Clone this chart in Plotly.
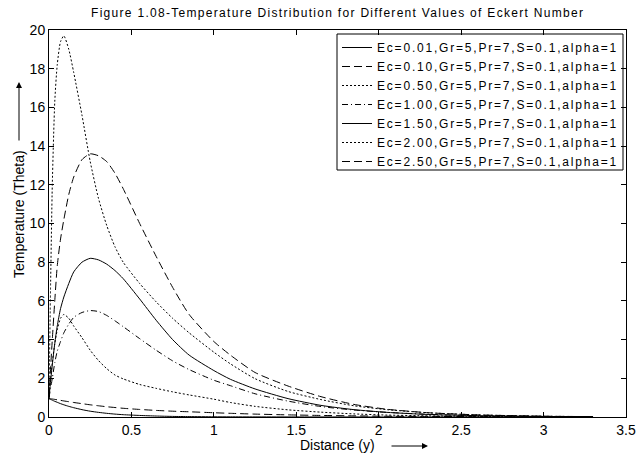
import plotly.graph_objects as go

# ---------------- data ----------------
distance = [0, 0.01, 0.02, 0.035, 0.05, 0.07, 0.09, 0.12, 0.15, 0.2, 0.25, 0.3, 0.35, 0.4,
            0.45, 0.55, 0.65, 0.75, 0.85, 1.0, 1.1, 1.25, 1.45, 1.65, 1.85, 2.05, 2.3,
            2.6, 3.0, 3.3]

theta_ec001 = [0.95, 0.91, 0.87, 0.81, 0.76, 0.69, 0.63, 0.55, 0.48, 0.38, 0.30, 0.24, 0.19, 0.15,
               0.12, 0.08, 0.05, 0.03, 0.02, 0.01, 0.008, 0.005, 0.003, 0.002, 0.001, 0.001, 0.0,
               0.0, 0.0, 0.0]
theta_ec010 = [0.95, 0.94, 0.93, 0.91, 0.89, 0.86, 0.83, 0.79, 0.75, 0.69, 0.63, 0.58, 0.53, 0.49,
               0.45, 0.39, 0.34, 0.30, 0.27, 0.22, 0.19, 0.15, 0.11, 0.08, 0.06, 0.04, 0.03,
               0.02, 0.01, 0.005]
theta_ec050 = [1.0, 2.0, 2.8, 3.8, 4.5, 5.1, 5.3, 5.1, 4.7, 4.1, 3.45, 2.92, 2.5, 2.17,
               1.97, 1.68, 1.48, 1.30, 1.14, 0.92, 0.75, 0.55, 0.37, 0.25, 0.16, 0.10, 0.06,
               0.03, 0.01, 0.005]
theta_ec100 = [1.0, 1.5, 2.0, 2.8, 3.4, 3.9, 4.35, 4.8, 5.15, 5.4, 5.5, 5.45, 5.25, 4.97,
               4.67, 4.05, 3.45, 2.9, 2.45, 1.9, 1.62, 1.2, 0.82, 0.54, 0.36, 0.24, 0.14,
               0.07, 0.03, 0.01]
theta_ec150 = [1.0, 1.9, 2.7, 3.8, 4.7, 5.6, 6.2, 6.9, 7.5, 8.0, 8.2, 8.12, 7.9, 7.57,
               7.15, 6.1, 5.0, 4.0, 3.2, 2.4, 1.95, 1.45, 0.95, 0.6, 0.38, 0.24, 0.13,
               0.07, 0.03, 0.01]
theta_ec200 = [1.0, 7.0, 12.0, 16.3, 18.2, 19.4, 19.7, 19.0, 17.8, 15.6, 13.2, 11.3, 9.9, 8.8,
               8.0, 6.9, 5.95, 5.1, 4.35, 3.35, 2.75, 1.98, 1.32, 0.90, 0.58, 0.38, 0.22,
               0.11, 0.04, 0.02]
theta_ec250 = [1.0, 2.6, 4.0, 6.0, 7.8, 9.2, 10.2, 11.5, 12.4, 13.3, 13.6, 13.5, 13.2, 12.6,
               11.8, 10.0, 8.3, 6.7, 5.3, 3.9, 3.2, 2.3, 1.6, 1.05, 0.65, 0.40, 0.22,
               0.11, 0.04, 0.02]

series_names = [
    "Ec=0.01,Gr=5,Pr=7,S=0.1,alpha=1",
    "Ec=0.10,Gr=5,Pr=7,S=0.1,alpha=1",
    "Ec=0.50,Gr=5,Pr=7,S=0.1,alpha=1",
    "Ec=1.00,Gr=5,Pr=7,S=0.1,alpha=1",
    "Ec=1.50,Gr=5,Pr=7,S=0.1,alpha=1",
    "Ec=2.00,Gr=5,Pr=7,S=0.1,alpha=1",
    "Ec=2.50,Gr=5,Pr=7,S=0.1,alpha=1",
]
series_values = [theta_ec001, theta_ec010, theta_ec050, theta_ec100,
                 theta_ec150, theta_ec200, theta_ec250]

x_ticks = [0, 0.5, 1, 1.5, 2, 2.5, 3, 3.5]
y_ticks = [0, 2, 4, 6, 8, 10, 12, 14, 16, 18, 20]

title_text = "Figure 1.08-Temperature Distribution for Different Values of Eckert Number"
x_title = "Distance (y)"
y_title = "Temperature (Theta)"

# ---------------- styling ----------------
dashes = ["solid", "8px,4px", "2px,2px", "6px,3px,1px,3px", "solid", "2px,2px", "8px,4px"]

W, H = 636, 458
L, R, T, B = 49, 626, 30, 417  # plot area in pixels


def px2x(px):
    return (px - L) / (R - L)


def px2y(py):
    return (B - py) / (B - T)


def spaced(text, ls):
    return f'<span style="letter-spacing:{ls}px">{text}</span>'


FONT = "Liberation Sans, Arial, sans-serif"

fig = go.Figure()
for name, vals, dash in zip(series_names, series_values, dashes):
    fig.add_trace(go.Scatter(
        x=distance, y=vals, name=spaced(name, 1.8), mode="lines",
        line=dict(color="black", width=1, dash=dash, shape="spline", smoothing=0.6),
    ))

axis_common = dict(
    showgrid=False, zeroline=False, showline=True, linecolor="black", linewidth=1,
    mirror="ticks", ticks="inside", ticklen=5, tickcolor="black", tickwidth=1,
    tickfont=dict(family=FONT, size=14, color="black"), automargin=False,
)

fig.update_layout(
    width=W, height=H,
    margin=dict(l=L, r=W - R, t=T, b=H - B, autoexpand=False),
    paper_bgcolor="white", plot_bgcolor="white",
    showlegend=True,
    legend=dict(
        x=px2x(337), xanchor="left", y=px2y(33), yanchor="top",
        bgcolor="rgba(0,0,0,0)", borderwidth=0,
        font=dict(family=FONT, size=12, color="black"),
        tracegroupgap=0,
    ),
    xaxis=dict(range=[0, 3.5], tickvals=x_ticks,
               ticktext=[f"{v:g}" for v in x_ticks], **axis_common),
    yaxis=dict(range=[0, 20], tickvals=y_ticks,
               ticktext=[f"{v:g}" for v in y_ticks], **axis_common),
)

# legend box
fig.add_shape(type="rect", xref="paper", yref="paper",
              x0=px2x(337), x1=px2x(623), y0=px2y(170), y1=px2y(34),
              line=dict(color="black", width=1), fillcolor="white", layer="below")

# title
fig.add_annotation(
    text=spaced(title_text, 1.3),
    xref="paper", yref="paper", x=0.5, y=px2y(13), xanchor="center", yanchor="middle",
    showarrow=False, font=dict(family=FONT, size=12, color="black"))

# x-axis label and arrow
fig.add_annotation(text=x_title, xref="paper", yref="paper",
                   x=px2x(337.5), y=px2y(445), xanchor="center", yanchor="middle",
                   showarrow=False, font=dict(family=FONT, size=14, color="black"))
fig.add_annotation(text="", xref="paper", yref="paper", x=px2x(428), y=px2y(446),
                   ax=-38, ay=0, showarrow=True, arrowhead=2, arrowsize=1.2,
                   arrowwidth=1, arrowcolor="black")

# y-axis label and arrow
fig.add_annotation(text=y_title, xref="paper", yref="paper",
                   x=px2x(19), y=px2y(214), xanchor="center", yanchor="middle",
                   textangle=-90, showarrow=False,
                   font=dict(family=FONT, size=14, color="black"))
fig.add_annotation(text="", xref="paper", yref="paper", x=px2x(19), y=px2y(82),
                   ax=0, ay=60, showarrow=True, arrowhead=2, arrowsize=1.2,
                   arrowwidth=1, arrowcolor="black")

fig.write_html("out.html", config={"displayModeBar": False},
               post_script="document.body.style.margin='0';document.body.style.overflow='hidden';")
